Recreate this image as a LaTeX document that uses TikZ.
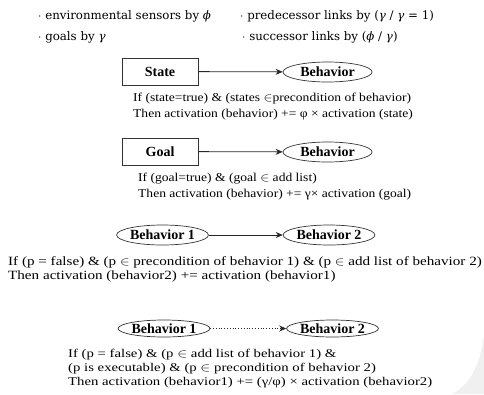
\documentclass[tikz,border=0pt]{standalone}
\usepackage{fontspec}
\usepackage{graphicx}
\setmainfont{Liberation Serif}
\newfontfamily\legfont{DejaVu Serif}
\usetikzlibrary{shapes.geometric,arrows.meta}
\tikzset{
  sbox/.style={draw=black!80, line width=0.8pt, minimum width=76pt, minimum height=27pt, inner sep=0pt, font=\fontsize{14}{15}\selectfont\bfseries},
  bell/.style={ellipse, draw=black!80, line width=0.7pt, minimum width=89pt, minimum height=20pt, inner sep=0pt, font=\fontsize{14}{15}\selectfont\bfseries},
  lin/.style={anchor=west, inner sep=0pt},
  top/.style={anchor=west, inner sep=0pt, font=\legfont\fontsize{11.8}{13}\selectfont},
  arr/.style={-{Stealth[length=7pt,width=6pt]}, line width=0.8pt, draw=black!85},
}
\newcommand{\txA}[1]{\scalebox{1.13}[1]{\fontsize{12}{13}\selectfont #1}}
\newcommand{\txB}[1]{\scalebox{1.2}[1]{\fontsize{12.6}{13}\selectfont #1}}
\newcommand{\txC}[1]{\scalebox{1.25}[1]{\fontsize{11.8}{13}\selectfont #1}}
\begin{document}
\begin{tikzpicture}[x=1pt,y=-1pt]
\useasboundingbox (0,0) rectangle (484,394);
% faint corner shade
\fill[black!6] (484,335) .. controls (480,365) and (470,385) .. (452,394) -- (484,394) -- cycle;
% legend
\node[top] (l1) at (38,16) {$\cdot$ environmental sensors by \textit{ϕ}};
\node[top] (l2) at (38,37) {$\cdot$ goals by \textit{γ}};
\node[top] (l3) at (240,16) {$\cdot$ predecessor links by (\textit{γ} / \textit{γ} = 1)};
\node[top] (l4) at (242,37) {$\cdot$ successor links by (\textit{ϕ} / \textit{γ})};
% block 1
\node[sbox] (state) at (160,71.5) {State};
\node[bell] (sb) at (327.5,72) {Behavior};
\draw[arr] (state) -- (sb);
\node[lin] (s1) at (133,99) {\txA{If (state=true) \& (states $\in$precondition of behavior)}};
\node[lin] (s2) at (133,115) {\txA{Then activation (behavior) += φ × activation (state)}};
% block 2
\node[sbox] (goal) at (160,151.5) {Goal};
\node[bell] (gb) at (327.5,152) {Behavior};
\draw[arr] (goal) -- (gb);
\node[lin] (g1) at (138,179) {\txA{If (goal=true) \& (goal $\in$ add list)}};
\node[lin] (g2) at (138,195) {\txA{Then activation (behavior) += γ× activation (goal)}};
% block 3
\node[bell] (b1) at (162.5,235) {Behavior 1};
\node[bell] (b2) at (329,235) {Behavior 2};
\draw[arr] (b1) -- (b2);
\node[lin] (p1) at (8,262) {\txB{If (p = false) \& (p $\in$ precondition of behavior 1) \& (p $\in$ add list of behavior 2)}};
\node[lin] (p2) at (8,276) {\txB{Then activation (behavior2) += activation (behavior1)}};
% block 4
\node[bell, minimum height=17pt, minimum width=88pt] (b3) at (164,328.5) {Behavior 1};
\node[bell, minimum height=17pt, minimum width=86pt] (b4) at (332.5,328.5) {Behavior 2};
\draw[arr, dotted] (b3) -- (b4);
\node[lin] (q1) at (68,355) {\txC{If (p = false) \& (p $\in$ add list of behavior 1) \&}};
\node[lin] (q2) at (68,368.5) {\txC{(p is executable) \& (p $\in$ precondition of behavior 2)}};
\node[lin] (q3) at (68,383) {\txC{Then activation (behavior1) += (γ/φ) × activation (behavior2)}};
\end{tikzpicture}
\end{document}
